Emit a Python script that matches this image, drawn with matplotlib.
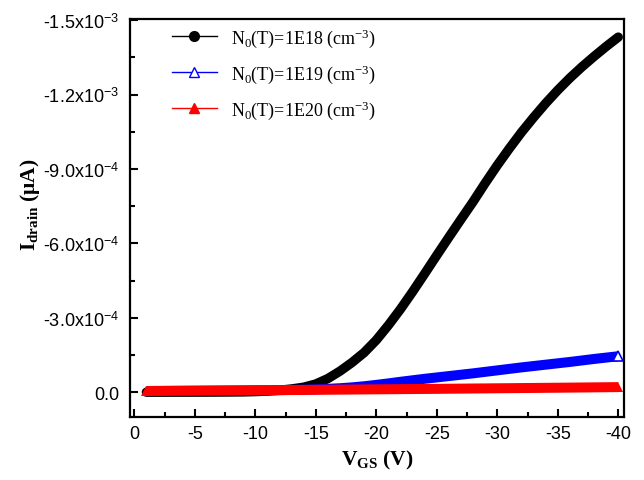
import matplotlib
matplotlib.use("Agg")
import matplotlib.pyplot as plt
from matplotlib.lines import Line2D
from matplotlib.ticker import MultipleLocator, FixedLocator, FixedFormatter

plt.rcParams['font.family'] = 'Liberation Sans'
plt.rcParams['axes.unicode_minus'] = False
plt.rcParams['mathtext.fontset'] = 'custom'
plt.rcParams['mathtext.rm'] = 'Liberation Serif'
plt.rcParams['mathtext.sf'] = 'Liberation Sans'
plt.rcParams['mathtext.bf'] = 'Liberation Serif:bold'
plt.rcParams['mathtext.it'] = 'Liberation Serif:italic'
plt.rcParams['mathtext.default'] = 'rm'

# gate voltage (V)
vgs = [-1, -2, -3, -4, -5, -6, -7, -8, -9, -10,
       -11, -12, -13, -14, -15, -16, -17, -18, -19, -20,
       -21, -22, -23, -24, -25, -26, -27, -28, -29, -30,
       -31, -32, -33, -34, -35, -36, -37, -38, -39, -40]

# drain current (A)
i_1e18 = [-0.1e-6, -0.1e-6, -0.2e-6, -0.2e-6, -0.3e-6, -0.4e-6, -0.6e-6, -0.9e-6, -1.3e-6, -2.5e-6,
          -4.5e-6, -8e-6, -13e-6, -20e-6, -33e-6, -55e-6, -85e-6, -120e-6, -160e-6, -210e-6,
          -270e-6, -335e-6, -405e-6, -478e-6, -552e-6, -625e-6, -697e-6, -768e-6, -843e-6, -915e-6,
          -983e-6, -1048e-6, -1108e-6, -1165e-6, -1218e-6, -1267e-6, -1312e-6, -1354e-6, -1394e-6, -1432e-6]
i_1e19 = [-4.5e-6, -4.8e-6, -5.1e-6, -5.4e-6, -5.7e-6, -6.0e-6, -6.3e-6, -6.6e-6, -6.9e-6, -7.3e-6,
          -7.7e-6, -8.2e-6, -9e-6, -10.2e-6, -11.5e-6, -13.5e-6, -16e-6, -19.5e-6, -24e-6, -29.5e-6,
          -35.5e-6, -42e-6, -48e-6, -54e-6, -59.5e-6, -65e-6, -70.5e-6, -76e-6, -82e-6, -88e-6,
          -94e-6, -100e-6, -105.5e-6, -111e-6, -116.5e-6, -122e-6, -128e-6, -134e-6, -139.5e-6, -145e-6]
i_1e20 = [-5.0e-6, -5.3e-6, -5.6e-6, -5.9e-6, -6.2e-6, -6.5e-6, -6.8e-6, -7.1e-6, -7.4e-6, -7.8e-6,
          -8.1e-6, -8.5e-6, -8.8e-6, -9.1e-6, -9.5e-6, -9.9e-6, -10.3e-6, -10.7e-6, -11.1e-6, -11.5e-6,
          -11.9e-6, -12.3e-6, -12.7e-6, -13.1e-6, -13.5e-6, -14.0e-6, -14.4e-6, -14.9e-6, -15.3e-6, -15.8e-6,
          -16.2e-6, -16.7e-6, -17.1e-6, -17.6e-6, -18.0e-6, -18.5e-6, -19.0e-6, -19.5e-6, -20.0e-6, -20.5e-6]

labels = ['N$_0$(T)=1E18 (cm$^{-3}$)',
          'N$_0$(T)=1E19 (cm$^{-3}$)',
          'N$_0$(T)=1E20 (cm$^{-3}$)']

yticks = [0, -3e-4, -6e-4, -9e-4, -1.2e-3, -1.5e-3]
ytick_labels = ['0.0',
                r'-3.0x10$^{\mathsf{-4}}$',
                r'-6.0x10$^{\mathsf{-4}}$',
                r'-9.0x10$^{\mathsf{-4}}$',
                r'-1.2x10$^{\mathsf{-3}}$',
                r'-1.5x10$^{\mathsf{-3}}$']
xticks = [0, -5, -10, -15, -20, -25, -30, -35, -40]
xtick_labels = ['0', '-5', '-10', '-15', '-20', '-25', '-30', '-35', '-40']

fig = plt.figure(figsize=(6.44, 4.81), dpi=100)
ax = fig.add_axes([0.2019, 0.131, 0.7675, 0.8274])

# dense markers in the original merge into a thick band
ax.plot(vgs, i_1e18, color='black', lw=6.8, solid_capstyle='round',
        solid_joinstyle='round')
ax.plot(vgs, i_1e19, color='blue', lw=7.2, solid_capstyle='butt',
        solid_joinstyle='round', marker='^', ms=7.2, mfc='white', mec='blue',
        mew=1.2, markevery=[len(vgs) - 1])
ax.plot(vgs, i_1e20, color='red', lw=7.2, marker='^', ms=7.2, mew=0,
        solid_capstyle='butt', solid_joinstyle='round',
        markevery=[0, len(vgs) - 1])

ax.set_xlim(0.355, -40.5)
ax.set_ylim(1e-4, -1.505e-3)

ax.xaxis.set_major_locator(FixedLocator(xticks))
ax.xaxis.set_major_formatter(FixedFormatter(xtick_labels))
ax.xaxis.set_minor_locator(MultipleLocator(2.5))
ax.yaxis.set_major_locator(FixedLocator(yticks))
ax.yaxis.set_major_formatter(FixedFormatter(ytick_labels))
ax.yaxis.set_minor_locator(MultipleLocator(1.5e-4))

ax.tick_params(which='both', direction='in', top=False, right=False, width=1.5)
ax.tick_params(which='major', length=6, labelsize=13)
ax.tick_params(axis='x', which='major', pad=6)
ax.tick_params(axis='y', which='major', pad=8)
ax.tick_params(which='minor', length=3.5)
for s in ax.spines.values():
    s.set_linewidth(1.6)

ax.set_xlabel(r'$\mathbf{V_{GS}}$ (V)', family='Liberation Serif',
              fontweight='bold', fontsize=15.5, labelpad=4)
ax.set_ylabel(r'$\mathbf{I_{drain}}$ (μA)', family='Liberation Serif',
              fontweight='bold', fontsize=15.5)
ax.yaxis.set_label_coords(-0.178, 0.535)

handles = [
    Line2D([], [], color='black', lw=1, marker='o', ms=7),
    Line2D([], [], color='blue', lw=1, marker='^', ms=7.5, mfc='white', mec='blue'),
    Line2D([], [], color='red', lw=1, marker='^', ms=7.5),
]
ax.legend(handles, labels, loc='upper left', bbox_to_anchor=(0.084, 0.982),
          frameon=False, borderpad=0, borderaxespad=0, handlelength=2.5,
          handletextpad=0.8, labelspacing=0.75,
          prop={'family': 'Liberation Serif', 'size': 13})

fig.savefig('out.png', dpi=100)
